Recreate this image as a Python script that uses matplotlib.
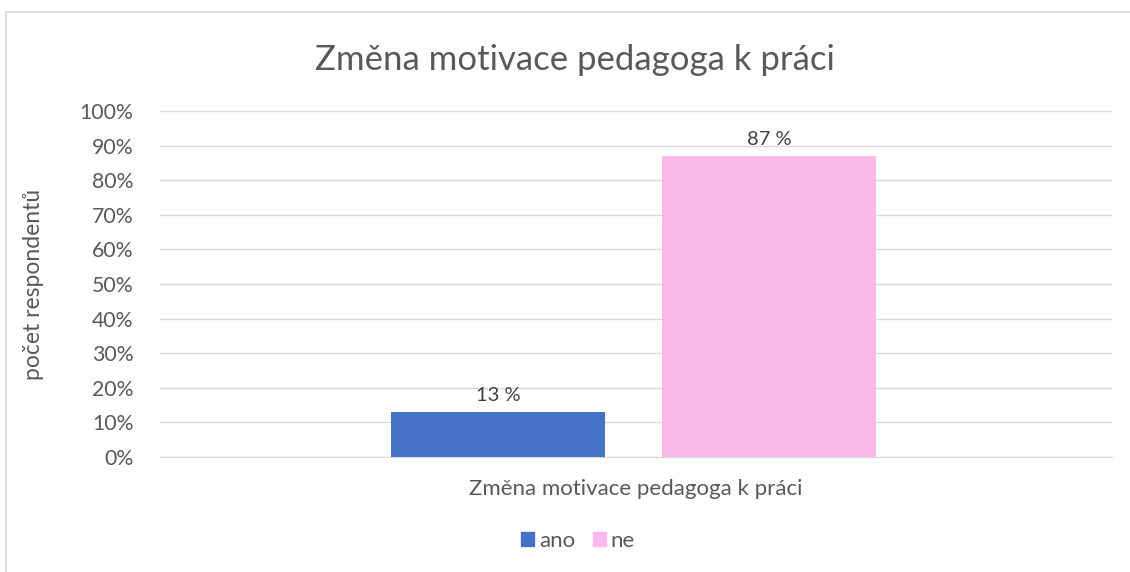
import matplotlib.pyplot as plt
from matplotlib.patches import Rectangle, Patch
from matplotlib.ticker import PercentFormatter

plt.rcParams['font.family'] = ['Lato', 'DejaVu Sans']

title = "Změna motivace pedagoga k práci"
category = "Změna motivace pedagoga k práci"
series = ["ano", "ne"]
values = [13, 87]
labels = ["13 %", "87 %"]
colors = ["#4472C4", "#FBB8EB"]
text_color = "#595959"

fig = plt.figure(figsize=(11.3, 5.72), dpi=100)
fig.patches.append(Rectangle((6 / 1130, -0.1), 1.2, 1 - 12 / 572 + 0.1,
                             transform=fig.transFigure, fill=False,
                             edgecolor="#D9D9D9", linewidth=1.2))

ax = fig.add_axes([160 / 1130, 1 - 457 / 572, 952 / 1130, 346 / 572])

xs = [0.355, 0.640]
width = 0.225
for x, v, c, lab in zip(xs, values, colors, labels):
    ax.bar(x, v, width=width, color=c, zorder=3)
    ax.text(x, v + 2.3, lab, ha="center", va="bottom", fontsize=14.5, color="#404040")

ax.set_xlim(0, 1)
ax.set_ylim(0, 100)
ax.set_yticks(range(0, 101, 10))
ax.yaxis.set_major_formatter(PercentFormatter(decimals=0))
ax.grid(axis="y", color="#D9D9D9", linewidth=1, zorder=0)
ax.set_xticks([0.5])
ax.set_xticklabels([category])
ax.tick_params(axis="x", length=0, labelsize=16, labelcolor=text_color, pad=16)
ax.tick_params(axis="y", length=0, labelsize=15.3, labelcolor=text_color, pad=19)
for s in ["top", "right", "left"]:
    ax.spines[s].set_visible(False)
ax.spines["bottom"].set_color("#D9D9D9")
ax.set_ylabel("počet respondentů", fontsize=16.5, color=text_color, labelpad=26)

fig.text(575 / 1130, 1 - 60 / 572, title, ha="center", va="center",
         fontsize=25, color=text_color)

handles = [Patch(color=c, label=s) for c, s in zip(colors, series)]
fig.legend(handles=handles, loc="center", bbox_to_anchor=(578 / 1130, 1 - 541 / 572),
           ncol=2, frameon=False, fontsize=16, handlelength=0.6, handleheight=0.6,
           handletextpad=0.2, columnspacing=0.8, labelcolor=text_color)

fig.savefig("out.png", dpi=100)
